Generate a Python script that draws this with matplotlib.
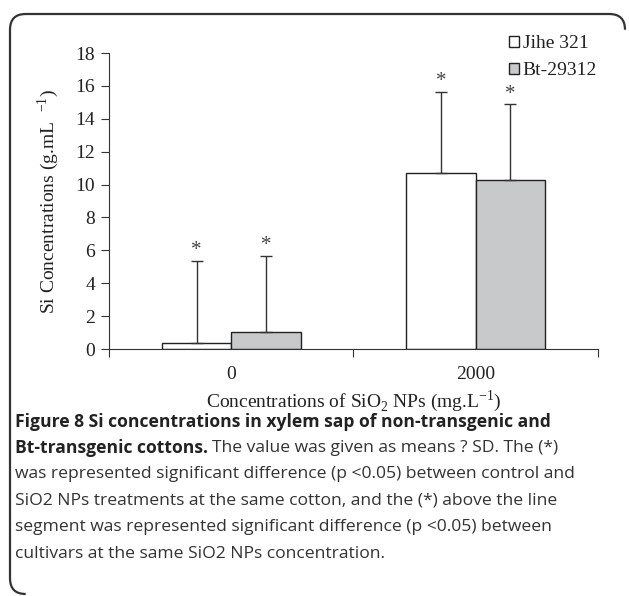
import matplotlib.pyplot as plt
from matplotlib.patches import PathPatch
from matplotlib.path import Path
import numpy as np

# data
doses = ['0', '2000']
jihe = [0.35, 10.69]
jihe_sd = [5.0, 4.96]
bt = [1.05, 10.28]
bt_sd = [4.63, 4.60]
series_names = ['Jihe 321', 'Bt-29312']

serif = 'Liberation Serif'
fig = plt.figure(figsize=(6.29, 5.96), dpi=100)
ax = fig.add_axes([0.1733, 0.4144, 0.7774, 0.4966])

x = np.arange(len(doses)) + 0.5
w = 0.284
edge = '#222222'
b1 = ax.bar(x - w / 2, jihe, w, color='white', edgecolor=edge, linewidth=1.0,
            label=series_names[0], zorder=2)
b2 = ax.bar(x + w / 2, bt, w, color='#c8c9cb', edgecolor=edge, linewidth=1.0,
            label=series_names[1], zorder=2)

# upper-only error bars with caps
for xs, vals, sds in [(x - w / 2, jihe, jihe_sd), (x + w / 2, bt, bt_sd)]:
    ax.errorbar(xs, vals, yerr=[np.zeros(len(sds)), sds], fmt='none',
                ecolor='#333333', elinewidth=1.0, capsize=4, capthick=1.0, zorder=3)
    for xi, v, s in zip(xs, vals, sds):
        ax.text(xi, v + s + 0.05, '*', ha='center', va='bottom',
                fontsize=15, family=serif, color='#444444')

ax.set_xlim(0, 2)
ax.set_ylim(0, 18)
ax.set_yticks(range(0, 19, 2))
ax.set_xticks([0, 1, 2])
ax.set_xticklabels([])
ax.set_xticks(x, minor=True)
ax.set_xticklabels(doses, minor=True)
ax.tick_params(axis='x', which='minor', length=0, pad=12)
ax.tick_params(axis='x', which='major', length=6, direction='out', color='#333333')
ax.tick_params(axis='y', length=6, direction='out', color='#333333', pad=4)
for lab in ax.get_xticklabels(minor=True) + ax.get_yticklabels():
    lab.set_family(serif)
    lab.set_fontsize(14)
    lab.set_color('#222222')
for s in ['top', 'right']:
    ax.spines[s].set_visible(False)
for s in ['left', 'bottom']:
    ax.spines[s].set_color('#333333')

ax.set_ylabel(r'Si Concentrations (g.mL  $^{\mathregular{-1}}$)', family=serif,
              fontsize=14, color='#222222', labelpad=10)
ax.set_xlabel(r'Concentrations of SiO$_{\mathregular{2}}$ NPs (mg.L$^{\mathregular{-1}}$)',
              family=serif, fontsize=14, color='#222222', labelpad=4)

leg = fig.legend(handles=[b1, b2], loc='upper right', bbox_to_anchor=(0.977, 0.97),
                 frameon=False, prop={'family': serif, 'size': 14},
                 handlelength=0.5, handleheight=0.5, handletextpad=0.2,
                 labelspacing=0.5)
for t in leg.get_texts():
    t.set_color('#222222')

# rounded frame (top and left edges)
r = 0.025
x0, x1 = 10 / 629, 625 / 629
y0, y1 = 1 - 594 / 596, 1 - 14 / 596
ry = r * 629 / 596
verts = [(x1, y1 - ry), (x1, y1), (x1 - r, y1),
         (x0 + r, y1), (x0, y1), (x0, y1 - ry),
         (x0, y0 + ry), (x0, y0), (x0 + r, y0)]
codes = [Path.MOVETO, Path.CURVE3, Path.CURVE3,
         Path.LINETO, Path.CURVE3, Path.CURVE3,
         Path.LINETO, Path.CURVE3, Path.CURVE3]
fig.patches.append(PathPatch(Path(verts, codes), transform=fig.transFigure,
                             fill=False, edgecolor='#333333', linewidth=1.6))

cap_font = 'Open Sans'
fig.text(0.024, 1 - 422 / 596, 'Figure 8 Si concentrations in xylem sap of non-transgenic and',
         family=cap_font, fontsize=12.6, fontweight='bold', va='center', color='#222222')
bold2 = fig.text(0.024, 1 - 448 / 596, 'Bt-transgenic cottons.', family=cap_font,
                 fontsize=12.6, fontweight='bold', va='center', color='#222222')
fig.canvas.draw()
bb = bold2.get_window_extent()
fig.text(bb.x1 / fig.bbox.width + 0.006, 1 - 448 / 596,
         'The value was given as means ? SD. The (*)',
         family=cap_font, fontsize=12.6, va='center', color='#333333')
rest = ['was represented significant difference (p <0.05) between control and',
        'SiO2 NPs treatments at the same cotton, and the (*) above the line',
        'segment was represented significant difference (p <0.05) between',
        'cultivars at the same SiO2 NPs concentration.']
for i, line in enumerate(rest):
    fig.text(0.024, 1 - (474 + 26.5 * i) / 596, line, family=cap_font,
             fontsize=12.6, va='center', color='#333333')

fig.savefig('out.png', dpi=100)
